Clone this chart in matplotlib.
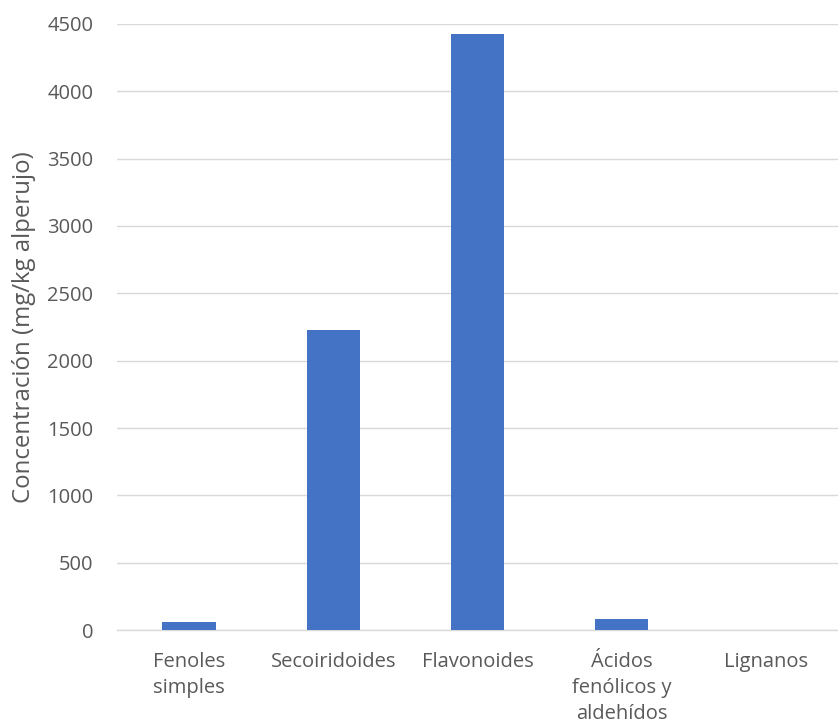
import matplotlib.pyplot as plt
import numpy as np

# datos
categorias = ["Fenoles\nsimples", "Secoiridoides", "Flavonoides", "Ácidos\nfenólicos y\naldehídos", "Lignanos"]
valores = [60, 2230, 4425, 78, 2]
ticks_y = [0, 500, 1000, 1500, 2000, 2500, 3000, 3500, 4000, 4500]

color_barra = "#4472C4"
gris = "#595959"

plt.rcParams['font.family'] = ['Open Sans', 'DejaVu Sans']

fig = plt.figure(figsize=(8.38, 7.27), dpi=100)
ax = fig.add_axes([117 / 838, 1 - 630 / 727, (838 - 117) / 838, 606 / 727])

x = np.arange(len(categorias))
ax.bar(x, valores, width=0.37, color=color_barra, zorder=3)

ax.set_xlim(-0.5, len(categorias) - 0.5)
ax.set_ylim(0, 4500)
ax.set_yticks(ticks_y)
ax.set_xticks(x)
ax.set_xticklabels(categorias, fontsize=14.5, color=gris, linespacing=1.38)
ax.tick_params(axis='y', labelsize=14.5, labelcolor=gris, length=0, pad=17)
ax.tick_params(axis='x', length=0, pad=16)

ax.grid(axis='y', color='#D9D9D9', linewidth=1, zorder=0)
for s in ['top', 'right', 'left']:
    ax.spines[s].set_visible(False)
ax.spines['bottom'].set_color('#D9D9D9')
ax.spines['bottom'].set_linewidth(1)

ax.set_ylabel("Concentración (mg/kg alperujo)", fontsize=17.3, color=gris, labelpad=8)

fig.savefig("out.png", dpi=100)
